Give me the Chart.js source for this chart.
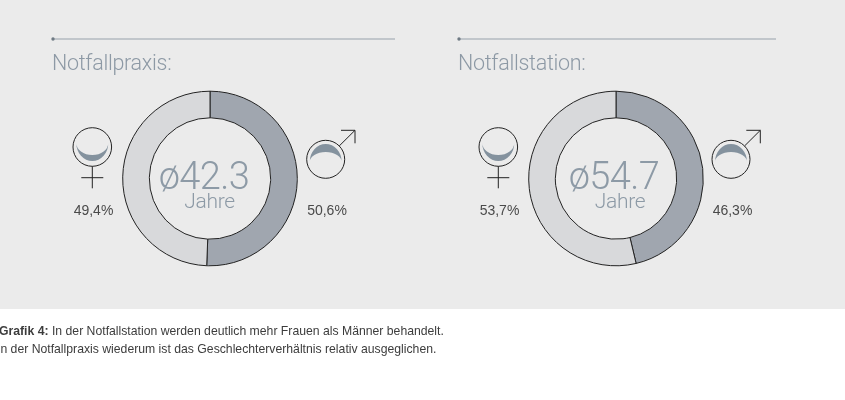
<!DOCTYPE html>
<html><head><meta charset="utf-8">
<script src="https://cdn.jsdelivr.net/npm/chart.js@4"></script>
<style>
html,body{margin:0;padding:0;background:#fff;overflow:hidden}
#page{position:relative;width:845px;height:400px;overflow:hidden;font-family:"Liberation Sans",Arial,sans-serif}
#bg{position:absolute;left:0;top:0;width:845px;height:309px;background:#ebebeb}
canvas{position:absolute}
.t{position:absolute;white-space:nowrap;line-height:1}
svg{position:absolute;left:0;top:0}
</style></head><body>
<div id="page"><div id="bg"></div>
<svg width="845" height="400" id="sym"></svg>
</div>
<script>
const panelTitles = ["Notfallpraxis:", "Notfallstation:"];
const averageAges = ["ø42.3", "ø54.7"];
const unitLabel = "Jahre";
const maleShare = [50.6, 46.3];
const femaleShare = [49.4, 53.7];
const maleLabels = ["50,6%", "46,3%"];
const femaleLabels = ["49,4%", "53,7%"];
const captionBold = "Grafik 4:";
const captionLine1 = " In der Notfallstation werden deutlich mehr Frauen als Männer behandelt.";
const captionLine2 = "In der Notfallpraxis wiederum ist das Geschlechterverhältnis relativ ausgeglichen.";

const page = document.getElementById('page');
const sym = document.getElementById('sym');
function text(s, x, y, size, color, anchor, extra){
  const d = document.createElement('div');
  d.className = 't'; d.textContent = s;
  d.style.fontSize = size + 'px'; d.style.color = color; d.style.top = y + 'px';
  if (anchor === 'c') { d.style.left = x + 'px'; d.style.transform = 'translateX(-50%)'; }
  else d.style.left = x + 'px';
  Object.assign(d.style, extra || {});
  page.appendChild(d); return d;
}
const light = {fontFamily:'Roboto, "Liberation Sans", sans-serif', fontWeight:'300'};
const layouts = [
  {cx:210, lineX0:52, lineX1:395, titleX:52, femX:92.3, malX:325.7, femLab:93.5, malLab:327, ageX:204, unitX:209.5},
  {cx:616, lineX0:458, lineX1:776, titleX:458, femX:498.3, malX:731, femLab:499.5, malLab:732.5, ageX:614, unitX:620}
];
let s = '';
layouts.forEach((L, i) => {
  s += `<line x1="${L.lineX0}" y1="39" x2="${L.lineX1}" y2="39" stroke="#97a2ac" stroke-width="1.2"/>`;
  s += `<circle cx="${L.lineX0+1}" cy="39" r="1.7" fill="#6f7a84"/>`;
  const fx = L.femX, mx = L.malX;
  s += `<path d="M${fx-16},143 A16 18 0 0 0 ${fx+16},143 A16 12 0 0 1 ${fx-16},143Z" fill="#84929e"/>`;
  s += `<circle cx="${fx}" cy="147" r="19.3" fill="none" stroke="#222" stroke-width="1"/>`;
  s += `<path d="M${fx},166.3V188.3M${fx-11},177.7H${fx+11}" fill="none" stroke="#222" stroke-width="1"/>`;
  s += `<path d="M${mx-16},162 A16 18 0 0 1 ${mx+16},162 A16 10 0 0 0 ${mx-16},162Z" fill="#84929e"/>`;
  s += `<circle cx="${mx}" cy="159.3" r="19" fill="none" stroke="#222" stroke-width="1"/>`;
  s += `<path d="M${mx+13.5},146 L${mx+29.3},130.3 M${mx+15.3},130.3H${mx+29.3}V143.3" fill="none" stroke="#222" stroke-width="1"/>`;

  text(panelTitles[i], L.titleX, 51.5, 21.5, '#8d99a5', 'l', Object.assign({letterSpacing:'-0.3px'}, light));
  text(averageAges[i], L.ageX, 157, 38, '#8d9aa6', 'c', Object.assign({letterSpacing:'-0.6px'}, light));
  text(unitLabel, L.unitX, 191, 21, '#8d9aa6', 'c', Object.assign({letterSpacing:'-0.3px'}, light));
  text(femaleLabels[i], L.femLab, 203, 14, '#4a4a4a', 'c');
  text(maleLabels[i], L.malLab, 203, 14, '#4a4a4a', 'c');

  const c = document.createElement('canvas');
  c.width = 200; c.height = 201;
  c.style.left = (L.cx - 100) + 'px'; c.style.top = '78px';
  page.insertBefore(c, sym);
  new Chart(c, {
    type: 'doughnut',
    data: { labels: ['Männer', 'Frauen'],
      datasets: [{ data: [maleShare[i], femaleShare[i]],
        backgroundColor: ['#a0a6af', '#d8d9db'],
        borderColor: '#222', borderWidth: 1 }] },
    options: { responsive:false, animation:false, radius:87.3, cutout:'69.5%',
      layout:{padding:0}, plugins:{legend:{display:false}, tooltip:{enabled:false}} }
  });
});
sym.innerHTML = s;

const cap1 = text('', -1, 325, 12.22, '#3c3c3c', 'l');
const b = document.createElement('b'); b.textContent = captionBold; cap1.appendChild(b);
cap1.appendChild(document.createTextNode(captionLine1));
text(captionLine2, -3, 343, 12.22, '#3c3c3c', 'l');
</script>
</body></html>
